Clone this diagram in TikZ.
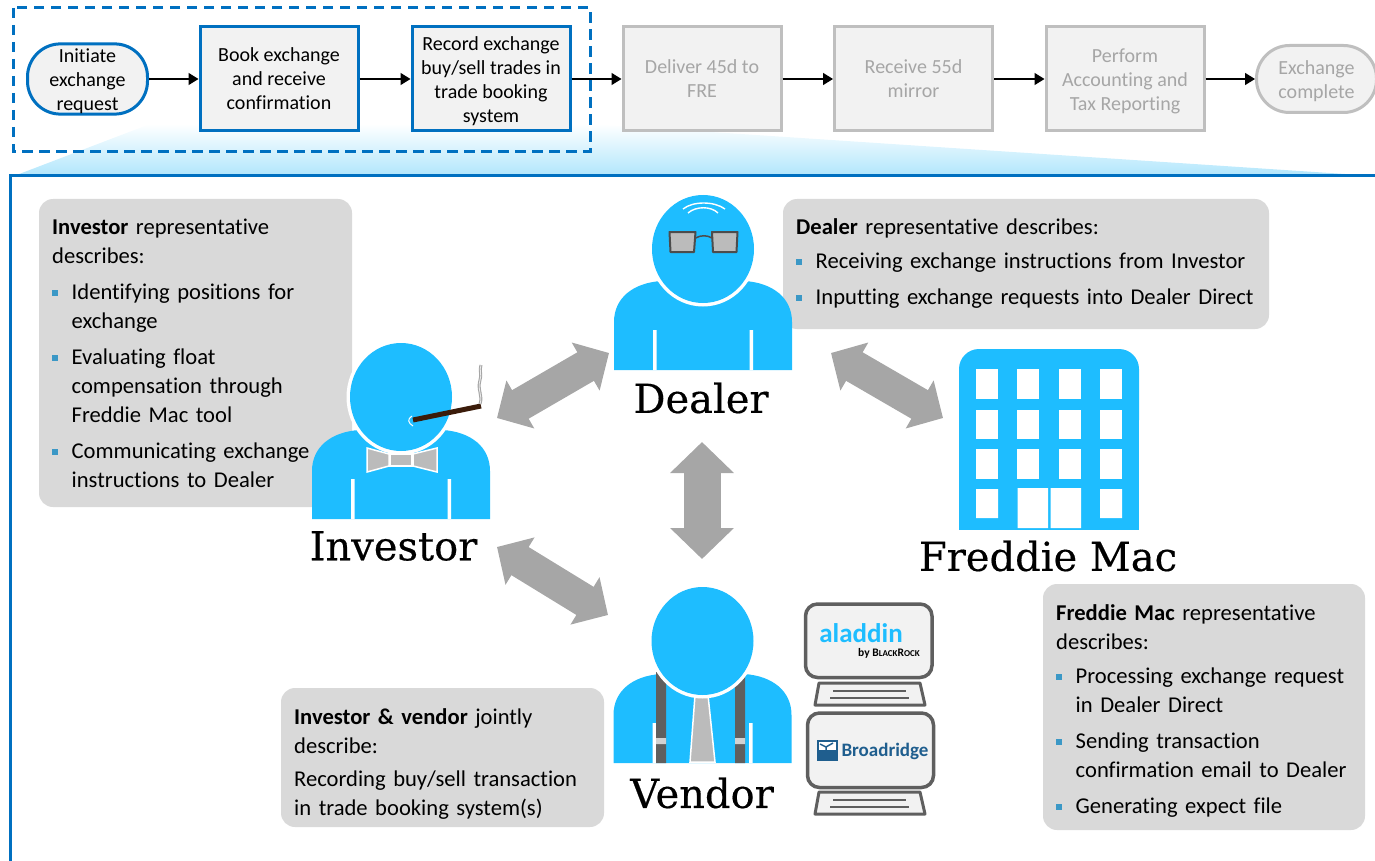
\documentclass[tikz,border=0pt]{standalone}
\usepackage{fontspec}
\setmainfont{Carlito}[Ligatures=NoCommon]
\newfontfamily\slabfont{DejaVu Serif}[FakeBold=0.4]
\usetikzlibrary{arrows.meta,shapes.misc}
\definecolor{blueline}{HTML}{0070C0}
\definecolor{figblue}{HTML}{1EBDFF}
\definecolor{boxfill}{HTML}{F2F2F2}
\definecolor{greyline}{HTML}{BFBFBF}
\definecolor{greytext}{HTML}{A6A6A6}
\definecolor{calloutfill}{HTML}{D9D9D9}
\definecolor{bulletcol}{HTML}{3B98C6}
\definecolor{arrowgrey}{HTML}{A6A6A6}
\definecolor{wear}{HTML}{BBBBBB}
\definecolor{dark}{HTML}{5F5F5F}
\definecolor{gradblue}{HTML}{B0E6FC}
\definecolor{broad}{HTML}{1F5E8E}
\definecolor{cigar}{HTML}{3B1C0A}
\newcommand{\bul}{\par\vspace{7pt}\hangindent=19.5pt\hangafter=1\noindent\hbox to 19.5pt{\textcolor{bulletcol}{\raisebox{3.5pt}{\rule{6pt}{6pt}}}\hfil}}
\newcommand{\nl}{\hfil\break}
\newcommand{\fl}{\rule{0pt}{19pt}}
\newcommand{\dl}{\rule[-5pt]{0pt}{5pt}}
\newcommand{\lead}[1]{\noindent\textbf{#1}}
\newcommand{\personfig}[2]{%
  \fill[figblue,shift={(#1,#2)}] (-89,0) -- (-89,-48) .. controls (-89,-72) and (-70,-87) .. (-42,-89) -- (42,-89) .. controls (70,-87) and (89,-72) .. (89,-48) -- (89,0) -- cycle;
  \fill[white,shift={(#1,#2)}] (-50,-40) rectangle (-46.5,0) (46.5,-40) rectangle (50,0);
}
\newcommand{\personhead}[2]{%
  \fill[white,shift={(#1,#2)}] (0,-122) ellipse[x radius=54.5,y radius=57.5];
  \fill[figblue,shift={(#1,#2)}] (0,-122) ellipse[x radius=51,y radius=54];
}
\newcommand{\computer}[4]{% x1 y1 x2 y2 screen
  \draw[dark,fill=boxfill,line width=3.5pt,rounded corners=12pt] (#1,#2) rectangle (#3,#4);
}
\newcommand{\keyboard}[1]{% y of top
  \draw[dark,fill=boxfill,line width=3pt,line join=round,shift={(0,#1)}] (819,0) -- (920,0) -- (925,22) -- (815,22) -- cycle;
  \draw[dark,line width=1.6pt,shift={(0,#1)}] (833,8) -- (906,8) (830,15) -- (909,15);
}
\tikzset{
  x=1pt,y=-1pt,
  stepbox/.style={draw=blueline,fill=boxfill,line width=3pt,minimum width=158pt,minimum height=104pt,inner sep=0pt,align=center,font=\fontsize{20}{24}\selectfont,text=black},
  greybox/.style={stepbox,draw=greyline,text=greytext},
  stadium/.style={rounded corners=33pt,minimum width=120pt,minimum height=67pt},
  flow/.style={draw=black,line width=1.4pt,-{Triangle[length=10pt,width=12pt]}},
  callouttext/.style={inner sep=0pt,anchor=north west,font=\fontsize{22.6}{29}\selectfont,align=left},
  bigarrow/.style={draw=arrowgrey,line width=33pt,{Triangle[length=27pt,width=54pt]}-{Triangle[length=27pt,width=54pt]}},
  role/.style={inner sep=0pt,font=\slabfont\fontsize{40}{44}\selectfont,text=black},
  glass/.style={draw=black!70,fill=wear,line width=2pt,line join=round},
  wearing/.style={draw=white,fill=wear,line width=1.5pt,line join=miter},
}
\begin{document}
\begin{tikzpicture}
\useasboundingbox (0,0) rectangle (1375,861);
% zoom wedge
\shade[top color=white,bottom color=gradblue] (14,176) -- (150,124) -- (590,124) -- (1375,176) -- cycle;
% process
\draw[blueline,line width=3pt,dash pattern=on 10.5pt off 6.5pt] (13,8) rectangle (590,152);
\node[stepbox,stadium] (initiate) at (87.5,79) {\fl Initiate\\exchange\\request};
\node[stepbox] (book) at (279,79) {\fl Book exchange\\and receive\\confirmation\dl};
\node[stepbox] (record) at (491,79) {\fl Record exchange\\buy/sell trades in\\trade booking\\system};
\node[greybox] (deliver) at (702,79) {\fl Deliver 45d to\\FRE\dl};
\node[greybox] (receive) at (913.5,79) {\fl Receive 55d\\mirror\dl};
\node[greybox] (perform) at (1125,79) {\fl Perform\\Accounting and\\Tax Reporting};
\node[greybox,stadium] (complete) at (1316.5,79) {\fl Exchange\\complete};
\draw[flow] (initiate) -- (book);
\draw[flow] (book) -- (record);
\draw[flow] (record) -- (deliver);
\draw[flow] (deliver) -- (receive);
\draw[flow] (receive) -- (perform);
\draw[flow] (perform) -- (complete);
% detail frame
\draw[blueline,line width=3pt] (10,861) -- (10,176) -- (1375,176);
% callouts
\fill[calloutfill,rounded corners=14pt] (39,199) rectangle (352,507);
\fill[calloutfill,rounded corners=14pt] (783,199) rectangle (1269,329);
\fill[calloutfill,rounded corners=14pt] (1043,584) rectangle (1365,830);
\fill[calloutfill,rounded corners=14pt] (281,688) rectangle (604,827);
\node[callouttext,text width=290pt] (investortext) at (52,219) {\lead{Investor} representative\\describes:\bul Identifying positions for\nl exchange\bul Evaluating float\nl compensation through\nl Freddie Mac tool\bul Communicating exchange\nl instructions to Dealer\par};
\node[callouttext,text width=470pt] (dealertext) at (796,218) {\lead{Dealer} representative describes:\par\vspace{-2pt}\bul Receiving exchange instructions from Investor\bul Inputting exchange requests into Dealer Direct\par};
\node[callouttext,text width=300pt] (freddietext) at (1056,604) {\lead{Freddie Mac} representative\\describes:\par\vspace{-2pt}\bul Processing exchange request\nl in Dealer Direct\bul Sending transaction\nl confirmation email to Dealer\bul Generating expect file\par};
\node[callouttext,text width=300pt] (vendortext) at (294,708) {\lead{Investor \& vendor} jointly\\describe:\par\vspace{4pt}\noindent Recording buy/sell transaction\\in trade booking system(s)};
% investor
\personfig{401}{519}
\personhead{401}{519}
\draw[wearing] (367,448) -- (389,454) -- (389,466) -- (367,472) -- cycle;
\draw[wearing] (437,448) -- (413,454) -- (413,466) -- (437,472) -- cycle;
\draw[wearing] (390,454) rectangle (412,466);
\draw[white,line width=1pt] (412,416) .. controls (407,419) and (408,423) .. (413,426);
\draw[cigar,line width=5pt] (413,420) -- (481,406);
\draw[greytext,line width=3pt] (480,404) .. controls (483,395) and (477,390) .. (480,380) .. controls (482,375) and (479,370) .. (481,365);
\draw[white!80!greytext,line width=.8pt] (480,404) .. controls (483,395) and (477,390) .. (480,380) .. controls (482,375) and (479,370) .. (481,365);
% dealer
\personfig{703}{370}
\personhead{703}{371}
\draw[white,line width=1.4pt] (683,209) .. controls (693,201) and (714,201) .. (725,209);
\draw[white,line width=1.4pt] (688,213) .. controls (696,206) and (711,206) .. (718,213);
\draw[glass] (669.5,232) -- (695.5,232) -- (694,252) -- (670.5,252) -- cycle;
\draw[glass] (712,232) -- (737.5,232) -- (736.5,252) -- (713,252) -- cycle;
\draw[black!70,line width=1.5pt] (695.5,238) .. controls (701,235) and (707,235) .. (712,238);
% vendor
\personfig{702.5}{763}
\fill[dark] (656,672) rectangle (666,763) (735,672) rectangle (745,763);
\fill[greyline!70] (656,738) rectangle (666,744) (735,738) rectangle (745,744);
\draw[wearing] (695,695) -- (708,695) -- (715,762) -- (690,762) -- cycle;
\personhead{702.5}{763}
% computers
\computer{805.5}{604}{932}{677.5}
\keyboard{683}
\computer{807.5}{713}{933.5}{787.5}
\keyboard{792}
\node[inner sep=0pt,text=figblue,font=\fontsize{27}{27}\selectfont\bfseries] (aladdin) at (861,633) {aladdin};
\node[inner sep=0pt,font=\fontsize{11.5}{11.5}\selectfont\bfseries] (blackrock) at (889,653) {by B{\fontsize{9}{9}\selectfont LACK}R{\fontsize{9}{9}\selectfont OCK}};
\node[inner sep=0pt,text=broad,font=\fontsize{19}{19}\selectfont\bfseries] (broadridge) at (885,751) {Broadridge};
\fill[broad] (817,740) rectangle (838,761);
\fill[white] (819,742) rectangle (836,750);
\draw[broad,line width=1.5pt] (820,744) -- (826,747) -- (833,743) (826,747) -- (826,752);
% building
\fill[figblue,rounded corners=20pt] (959,349) -- (1139,349) -- (1139,440) -- (959,440) -- cycle;
\fill[figblue] (959,400) rectangle (1139,530);
\foreach \wx in {976,1017,1059,1100} \foreach \wy/\wh in {369/30,410/29,449/30} \fill[white] (\wx,\wy) rectangle ++(22,\wh);
\fill[white] (976,489) rectangle ++(22,29) (1100,489) rectangle ++(22,29);
\fill[white] (1017.5,488) rectangle (1048,528) (1050.5,488) rectangle (1081,528);
% role labels
\node[role] (dealer) at (701,398) {Dealer};
\node[role] (investor) at (393.5,546) {Investor};
\node[role] (freddie) at (1048,556) {Freddie Mac};
\node[role] (vendor) at (702,793) {Vendor};
% block arrows
\coordinate (invA) at (497,418);
\coordinate (dealA) at (609,353);
\coordinate (dealB) at (831,353);
\coordinate (fredA) at (943,418);
\coordinate (dealC) at (702,442);
\coordinate (vendA) at (702,559);
\coordinate (invB) at (497,547);
\coordinate (vendB) at (608,615);
\draw[bigarrow] (invA) -- (dealA);
\draw[bigarrow] (dealB) -- (fredA);
\draw[bigarrow,line width=37pt,{Triangle[length=31pt,width=62pt]}-{Triangle[length=31pt,width=62pt]}] (dealC) -- (vendA);
\draw[bigarrow] (invB) -- (vendB);
\end{tikzpicture}
\end{document}
